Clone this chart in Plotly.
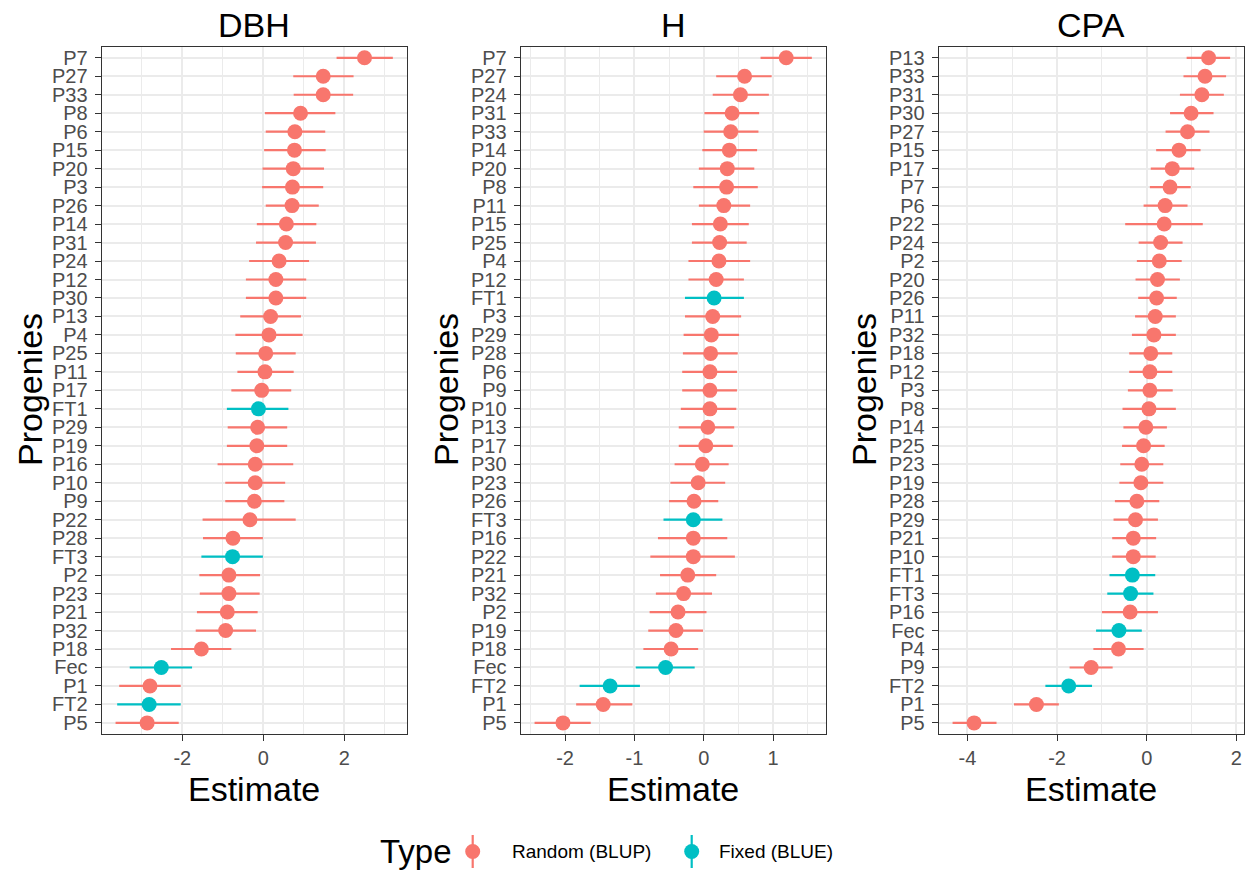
import plotly.graph_objects as go

# ---------------- data (top to bottom as shown) ----------------
dbh_labels = ["P7", "P27", "P33", "P8", "P6", "P15", "P20", "P3", "P26", "P14", "P31", "P24",
              "P12", "P30", "P13", "P4", "P25", "P11", "P17", "FT1", "P29", "P19", "P16", "P10",
              "P9", "P22", "P28", "FT3", "P2", "P23", "P21", "P32", "P18", "Fec", "P1", "FT2", "P5"]
dbh_est = [2.50, 1.48, 1.48, 0.92, 0.78, 0.77, 0.74, 0.72, 0.71, 0.57, 0.55, 0.39,
           0.31, 0.31, 0.18, 0.14, 0.06, 0.04, -0.04, -0.12, -0.14, -0.16, -0.20, -0.20,
           -0.22, -0.33, -0.75, -0.76, -0.85, -0.85, -0.89, -0.93, -1.53, -2.52, -2.80, -2.82, -2.87]
dbh_low = [1.81, 0.74, 0.75, 0.04, 0.06, 0.02, -0.02, -0.03, 0.06, -0.16, -0.18, -0.35,
           -0.43, -0.43, -0.57, -0.69, -0.68, -0.64, -0.79, -0.90, -0.88, -0.90, -1.13, -0.94,
           -0.94, -1.50, -1.49, -1.53, -1.58, -1.57, -1.64, -1.67, -2.28, -3.30, -3.56, -3.61, -3.65]
dbh_high = [3.20, 2.23, 2.22, 1.78, 1.53, 1.54, 1.50, 1.48, 1.37, 1.31, 1.30, 1.13,
            1.06, 1.06, 0.93, 0.97, 0.80, 0.75, 0.69, 0.62, 0.59, 0.59, 0.74, 0.54,
            0.52, 0.80, -0.01, -0.01, -0.08, -0.09, -0.14, -0.18, -0.79, -1.76, -2.04, -2.04, -2.09]

h_labels = ["P7", "P27", "P24", "P31", "P33", "P14", "P20", "P8", "P11", "P15", "P25", "P4",
            "P12", "FT1", "P3", "P29", "P28", "P6", "P9", "P10", "P13", "P17", "P30", "P23",
            "P26", "FT3", "P16", "P22", "P21", "P32", "P2", "P19", "P18", "Fec", "FT2", "P1", "P5"]
h_est = [1.19, 0.59, 0.53, 0.41, 0.39, 0.37, 0.34, 0.33, 0.29, 0.24, 0.23, 0.22,
         0.18, 0.15, 0.13, 0.11, 0.10, 0.09, 0.09, 0.09, 0.06, 0.03, -0.02, -0.08,
         -0.14, -0.15, -0.15, -0.15, -0.23, -0.29, -0.37, -0.40, -0.47, -0.55, -1.35, -1.45, -2.03]
h_low = [0.82, 0.18, 0.13, 0.01, 0.00, -0.02, -0.07, -0.15, -0.07, -0.17, -0.17, -0.22,
         -0.22, -0.27, -0.27, -0.29, -0.30, -0.31, -0.31, -0.33, -0.36, -0.36, -0.42, -0.48,
         -0.50, -0.58, -0.66, -0.77, -0.63, -0.69, -0.78, -0.80, -0.87, -0.98, -1.79, -1.84, -2.44]
h_high = [1.56, 0.98, 0.94, 0.80, 0.79, 0.77, 0.73, 0.78, 0.67, 0.65, 0.62, 0.67,
          0.58, 0.58, 0.54, 0.51, 0.49, 0.48, 0.48, 0.47, 0.44, 0.42, 0.36, 0.31,
          0.21, 0.27, 0.34, 0.45, 0.18, 0.12, 0.04, -0.01, -0.08, -0.13, -0.92, -1.03, -1.63]

cpa_labels = ["P13", "P33", "P31", "P30", "P27", "P15", "P17", "P7", "P6", "P22", "P24", "P2",
              "P20", "P26", "P11", "P32", "P18", "P12", "P3", "P8", "P14", "P25", "P23", "P19",
              "P28", "P29", "P21", "P10", "FT1", "FT3", "P16", "Fec", "P4", "P9", "FT2", "P1", "P5"]
cpa_est = [1.38, 1.30, 1.23, 0.99, 0.91, 0.72, 0.57, 0.52, 0.41, 0.39, 0.31, 0.28,
           0.24, 0.22, 0.19, 0.16, 0.09, 0.07, 0.07, 0.05, -0.02, -0.07, -0.11, -0.13,
           -0.22, -0.25, -0.30, -0.30, -0.32, -0.36, -0.37, -0.62, -0.63, -1.24, -1.74, -2.46, -3.85]
cpa_low = [0.89, 0.82, 0.74, 0.52, 0.42, 0.21, 0.09, 0.07, -0.07, -0.48, -0.18, -0.22,
           -0.25, -0.19, -0.26, -0.33, -0.39, -0.39, -0.42, -0.54, -0.52, -0.55, -0.59, -0.61,
           -0.71, -0.74, -0.77, -0.77, -0.83, -0.88, -1.00, -1.13, -1.19, -1.72, -2.26, -2.96, -4.33]
cpa_high = [1.86, 1.77, 1.72, 1.49, 1.40, 1.20, 1.06, 0.98, 0.91, 1.25, 0.80, 0.78,
            0.74, 0.67, 0.65, 0.65, 0.57, 0.57, 0.58, 0.65, 0.45, 0.40, 0.37, 0.37,
            0.28, 0.25, 0.21, 0.20, 0.19, 0.15, 0.25, -0.11, -0.07, -0.76, -1.22, -1.96, -3.35]

fixed_labels = ["FT1", "FT2", "FT3", "Fec"]
type_names = ["Random (BLUP)", "Fixed (BLUE)"]
type_colors = ["#F8766D", "#00BFC4"]
panel_titles = ["DBH", "H", "CPA"]
legend_title = "Type"

panels = [
    (dbh_labels, dbh_est, dbh_low, dbh_high),
    (h_labels, h_est, h_low, h_high),
    (cpa_labels, cpa_est, cpa_low, cpa_high),
]

# ---------------- layout geometry (pixels) ----------------
W, H = 1250, 870
x_doms = [(101.7, 406.7), (520.7, 825.7), (938.7, 1244.0)]
y_top, y_bot = 46.7, 734.0
ytitle_x = [30, 446, 864]
major_dt = [2, 1, 2]
minor_dt = [1, 0.5, 1]

FONT = "Liberation Sans, Arial, sans-serif"


def px(x):
    return x / W


def py(y):
    return 1 - y / H


fig = go.Figure()
shapes = []

for i, (labels, est, low, high) in enumerate(panels):
    xa = "x" if i == 0 else f"x{i+1}"
    ya = "y" if i == 0 else f"y{i+1}"
    for t, (tname, col) in enumerate(zip(type_names, type_colors)):
        idx = [k for k, lab in enumerate(labels) if (lab in fixed_labels) == (t == 1)]
        fig.add_trace(go.Scatter(
            x=[est[k] for k in idx],
            y=[labels[k] for k in idx],
            mode="markers",
            marker=dict(color=col, size=15),
            error_x=dict(type="data", symmetric=False,
                         array=[high[k] - est[k] for k in idx],
                         arrayminus=[est[k] - low[k] for k in idx],
                         color=col, thickness=2.2, width=0),
            name=tname, legendgroup=tname, showlegend=False,
            xaxis=xa, yaxis=ya,
        ))

    lo, hi = min(low), max(high)
    pad = 0.05 * (hi - lo)
    rng = [lo - pad, hi + pad]
    d = major_dt[i]
    tv = [v * d for v in range(int(rng[0] // d), int(rng[1] // d) + 1) if rng[0] <= v * d <= rng[1]]
    tt = [str(int(v)) for v in tv]

    axis_common = dict(showline=True, mirror=True, linecolor="#333333", linewidth=1.2,
                       ticks="outside", ticklen=6, tickcolor="#333333", tickwidth=1.2,
                       tickfont=dict(family=FONT, size=20, color="#4D4D4D"),
                       showgrid=True, gridcolor="#EBEBEB", gridwidth=1.6,
                       zeroline=False, automargin=False)
    xkey = "xaxis" if i == 0 else f"xaxis{i+1}"
    ykey = "yaxis" if i == 0 else f"yaxis{i+1}"
    fig.update_layout({
        xkey: dict(domain=[px(x_doms[i][0]), px(x_doms[i][1])], anchor=ya,
                   range=rng, tickmode="array", tickvals=tv, ticktext=tt,
                   minor=dict(tickmode="linear", dtick=minor_dt[i], tick0=0, showgrid=True,
                              gridcolor="#EBEBEB", gridwidth=0.8, ticks=""),
                   **axis_common),
        ykey: dict(domain=[py(y_bot), py(y_top)], anchor=xa,
                   type="category", categoryorder="array",
                   categoryarray=list(reversed(labels)),
                   tickmode="linear", tick0=0, dtick=1,
                   range=[-0.6, len(labels) - 0.4], ticklabelstandoff=3,
                   **axis_common),
    })
    cx = px((x_doms[i][0] + x_doms[i][1]) / 2)
    fig.add_annotation(text=panel_titles[i], x=cx, y=py(25), xref="paper", yref="paper",
                       xanchor="center", yanchor="middle", showarrow=False,
                       font=dict(family=FONT, size=34, color="black"))
    fig.add_annotation(text="Estimate", x=cx, y=py(789), xref="paper", yref="paper",
                       xanchor="center", yanchor="middle", showarrow=False,
                       font=dict(family=FONT, size=34, color="black"))
    fig.add_annotation(text="Progenies", x=px(ytitle_x[i]), y=py(390),
                       xref="paper", yref="paper", textangle=-90,
                       xanchor="center", yanchor="middle", showarrow=False,
                       font=dict(family=FONT, size=34, color="black"))

# ---------------- legend (pointrange glyphs) ----------------
leg_y = 851.5
fig.add_annotation(text=legend_title, x=px(378), y=py(leg_y), xref="paper", yref="paper",
                   xanchor="left", yanchor="middle", showarrow=False,
                   font=dict(family=FONT, size=33, color="black"))
key_x = [472.7, 691.7]
text_x = [510, 717]
for k in range(2):
    col = type_colors[k]
    shapes.append(dict(type="line", xref="paper", yref="paper",
                       x0=px(key_x[k]), x1=px(key_x[k]), y0=py(835), y1=py(868),
                       line=dict(color=col, width=2.2)))
    shapes.append(dict(type="circle", xref="paper", yref="paper",
                       x0=px(key_x[k] - 7.5), x1=px(key_x[k] + 7.5),
                       y0=py(leg_y + 7.5), y1=py(leg_y - 7.5),
                       fillcolor=col, line=dict(color=col, width=0)))
    fig.add_annotation(text=type_names[k], x=px(text_x[k]), y=py(leg_y), xref="paper", yref="paper",
                       xanchor="left", yanchor="middle", showarrow=False,
                       font=dict(family=FONT, size=19, color="black"))

fig.update_layout(
    width=W, height=H,
    margin=dict(l=0, r=0, t=0, b=0),
    paper_bgcolor="white", plot_bgcolor="white",
    font=dict(family=FONT),
    showlegend=False,
    shapes=shapes,
)

fig.write_html("out.html", config={"displayModeBar": False},
               post_script="document.body.style.margin='0px';")
